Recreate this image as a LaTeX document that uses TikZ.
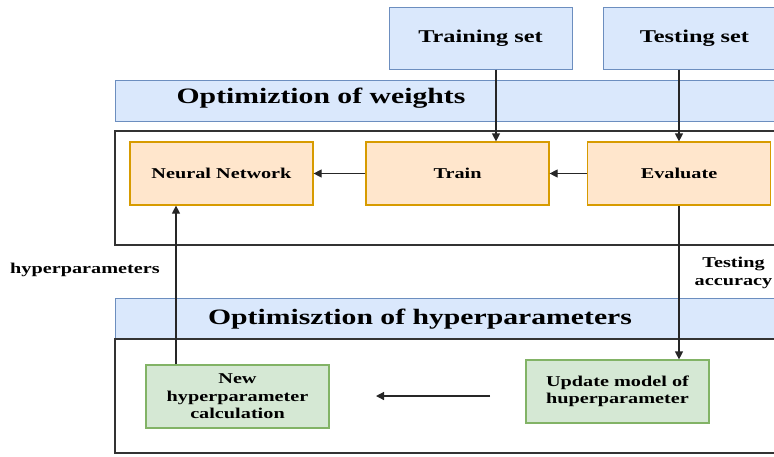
\documentclass[tikz,border=0pt]{standalone}
\usepackage{fontspec}
\setmainfont[FakeStretch=1.35]{Liberation Serif}
\usetikzlibrary{arrows.meta}
\definecolor{bluefill}{HTML}{DAE8FC}
\definecolor{blueline}{HTML}{6C8EBF}
\definecolor{orangefill}{HTML}{FFE6CC}
\definecolor{orangeline}{HTML}{D79B00}
\definecolor{greenfill}{HTML}{D5E8D4}
\definecolor{greenline}{HTML}{82B366}
\tikzset{
  set node/.style={rectangle,fill=bluefill,draw=blueline,line width=1pt,minimum width=183,minimum height=62,font=\bfseries\fontsize{18}{20}\selectfont},
  step node/.style={rectangle,fill=orangefill,draw=orangeline,line width=1.2pt,minimum width=183,minimum height=63,font=\bfseries\fontsize{15}{17.5}\selectfont},
  hp node/.style={rectangle,fill=greenfill,draw=greenline,line width=1.2pt,minimum width=183,minimum height=63,align=center,font=\bfseries\fontsize{15}{17.5}\selectfont},
  title node/.style={font=\bfseries\fontsize{22}{24}\selectfont},
  label node/.style={align=center,font=\bfseries\fontsize{15}{18}\selectfont},
  arr/.style={-{Triangle[width=8,length=8]},line width=1.2pt,draw=black!85},
}

\begin{document}
\begin{tikzpicture}[x=1pt,y=-1pt]
  \clip (0,0) rectangle (774,456);
  %% Panels
  \draw[fill=bluefill,draw=blueline,line width=1pt] (115,80) rectangle (790,121);
  \draw[black!80,line width=1.4pt] (115,131) rectangle (790,245);
  \draw[fill=bluefill,draw=blueline,line width=1pt] (115,298) rectangle (790,339);
  \draw[black!80,line width=1.4pt] (115,339) rectangle (790,453);
  %% Nodes
  \node[title node] (wtitle) at (321,98) {Optimiztion of weights};
  \node[title node] (htitle) at (420,319) {Optimisztion of hyperparameters};
  \node[set node] (trainset) at (480.5,38) {Training set};
  \node[set node] (testset) at (694.5,38) {Testing set};
  \node[step node] (nn) at (221.5,173.5) {Neural Network};
  \node[step node] (train) at (457.5,173.5) {Train};
  \node[step node] (eval) at (679,173.5) {Evaluate};
  \node[hp node] (update) at (617.5,391.5) {Update model of\\huperparameter};
  \node[hp node] (newhp) at (237.5,396.5) {New\\hyperparameter\\calculation};
  \node[label node] (hplabel) at (85,270) {hyperparameters};
  \node[label node] (acclabel) at (733.5,273) {Testing\\accuracy};
  \coordinate (from) at (490,396);
  \coordinate (to) at (376,396);
  %% Paths
  \draw[arr] ([xshift=15.5]trainset.south) -- ([xshift=15.5]trainset.south |- train.north);
  \draw[arr] (eval.north |- testset.south) -- (eval.north);
  \draw[arr] (eval.west) -- (train.east);
  \draw[arr] (train.west) -- (nn.east);
  \draw[arr] (eval.south) -- (eval.south |- update.north);
  \draw[arr] (from) -- (to);
  \draw[arr] ([xshift=-45.5]nn.south |- newhp.north) -- ([xshift=-45.5]nn.south);
\end{tikzpicture}
\end{document}
